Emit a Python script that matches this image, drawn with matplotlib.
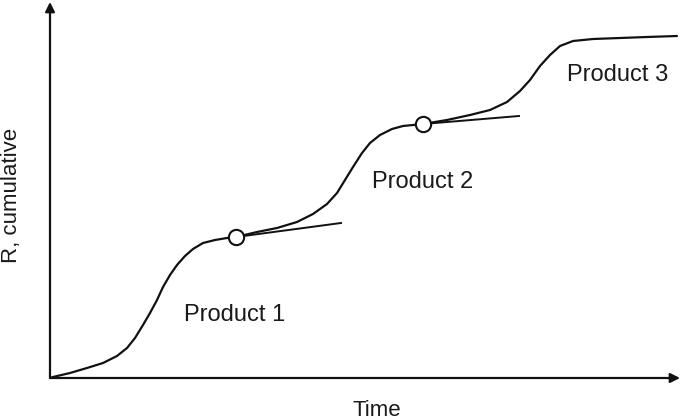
import matplotlib
matplotlib.use("Agg")
import matplotlib.pyplot as plt

plt.rcParams['font.family'] = ['Liberation Sans', 'DejaVu Sans']

# cumulative curve (time, R)
time = [0, 3, 20, 37, 53, 67, 77, 85, 93, 100, 107, 113, 120, 127, 135, 143,
        153, 165, 177, 186, 207, 227, 247, 263, 277, 287, 295, 303, 312, 320,
        330, 342, 353, 373, 397, 420, 440, 457, 470, 480, 490, 500, 510, 523,
        543, 570, 597, 627]
r_cum = [0, 1, 5, 10, 15, 22, 30, 40, 53, 65, 78, 91, 103, 113, 122, 129,
         135, 138, 140, 141, 146, 150, 156, 164, 174, 185, 198, 211, 225, 235,
         243, 249, 252, 254, 258, 263, 268, 276, 287, 298, 312, 323, 332, 337,
         339, 340, 341, 342]

# tangent points (circles) and tangent line ends
tan_t = [186, 373]
tan_r = [141, 254]
tan_end_t = [291, 469]
tan_end_r = [155, 262]

labels = ["Product 1", "Product 2", "Product 3"]
label_t = [185, 373, 568]
label_r = [63, 196, 303]

fig = plt.figure(figsize=(6.81, 4.19), dpi=100)
ax = fig.add_axes([50 / 681, 41 / 419, 630 / 681, 376 / 419])
ax.set_xlim(0, 630)
ax.set_ylim(0, 376)
ax.axis('off')

# axes with arrow heads
arrow = dict(arrowstyle='-|>', color='#111111', lw=1.6, shrinkA=0, shrinkB=0,
             mutation_scale=14)
ax.annotate('', xy=(1, 0), xytext=(0, 0), xycoords='axes fraction', arrowprops=arrow)
ax.annotate('', xy=(0, 1), xytext=(0, 0), xycoords='axes fraction', arrowprops=arrow)

ax.plot(time, r_cum, color='#111111', lw=1.6, solid_joinstyle='round',
        solid_capstyle='round')

for t0, r0, t1, r1 in zip(tan_t, tan_r, tan_end_t, tan_end_r):
    ax.plot([t0, t1], [r0, r1], color='#111111', lw=1.4)
ax.plot(tan_t, tan_r, 'o', ms=11, mfc='white', mec='#111111', mew=1.5, zorder=5)

for lab, t, r in zip(labels, label_t, label_r):
    ax.text(t, r, lab, fontsize=17, ha='center', va='center', color='#1a1a1a')

fig.text(377 / 681, 1 - 410 / 419, "Time", fontsize=16, ha='center', va='center',
         color='#1a1a1a')
fig.text(12 / 681, 1 - 195 / 419, "R, cumulative", fontsize=16, rotation=90,
         ha='center', va='center', color='#1a1a1a')

fig.savefig("out.png", dpi=100)
